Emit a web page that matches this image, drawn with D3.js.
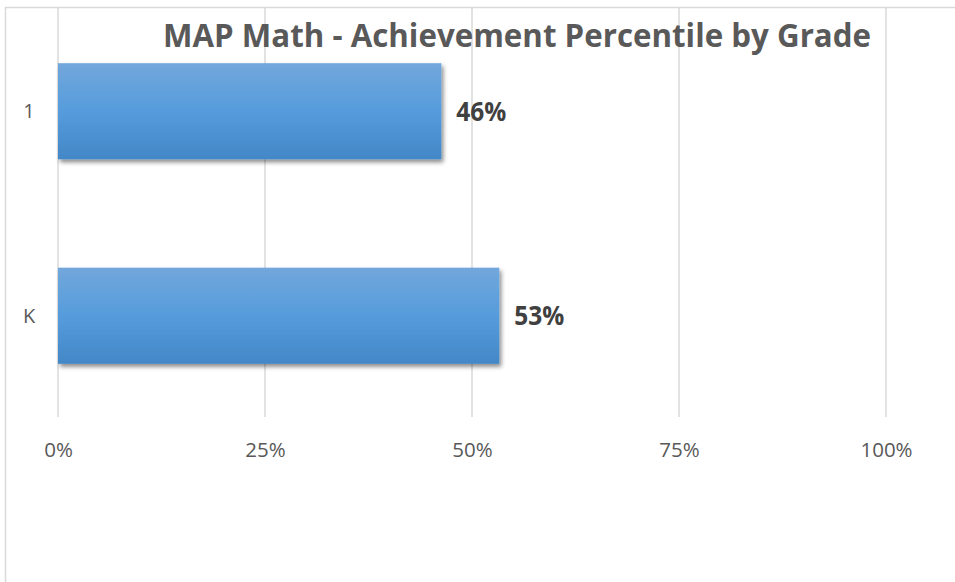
<!DOCTYPE html>
<html>
<head>
<meta charset="utf-8">
<script src="https://cdn.jsdelivr.net/npm/d3@7/dist/d3.min.js"></script>
<style>
  html, body { margin: 0; padding: 0; background: #fff; }
  svg { display: block; }
</style>
</head>
<body>
<svg id="chart" width="955" height="582"></svg>
<script>
// ---- data ----
const categories = ["1", "K"];
const values = [0.463, 0.533];
const labels = ["46%", "53%"];
const tickValues = [0, 0.25, 0.5, 0.75, 1];
const tickLabels = ["0%", "25%", "50%", "75%", "100%"];
const title = "MAP Math - Achievement Percentile by Grade";

const svg = d3.select("#chart");
const fontFamily = "'Open Sans', 'Noto Sans', sans-serif";

// outer border (extends past the visible window on right/bottom)
svg.append("rect")
  .attr("x", 5.5).attr("y", 7.5)
  .attr("width", 1000).attr("height", 700)
  .attr("fill", "#fff")
  .attr("stroke", "#d9d9d9").attr("stroke-width", 1.5);

const plot = { left: 58, right: 886, top: 8, bottom: 417 };

const x = d3.scaleLinear().domain([0, 1]).range([plot.left, plot.right]);
const y = d3.scaleBand().domain(categories).range([plot.top + 1, plot.bottom + 1])
  .paddingInner(0.53).paddingOuter(0.265);

const defs = svg.append("defs");
const grad = defs.append("linearGradient").attr("id", "barGrad")
  .attr("x1", 0).attr("y1", 0).attr("x2", 0).attr("y2", 1);
grad.append("stop").attr("offset", "0%").attr("stop-color", "#72a7db");
grad.append("stop").attr("offset", "50%").attr("stop-color", "#569cdc");
grad.append("stop").attr("offset", "100%").attr("stop-color", "#4387c7");

const shadow = defs.append("filter").attr("id", "shadow")
  .attr("x", "-10%").attr("y", "-20%").attr("width", "130%").attr("height", "150%");
shadow.append("feDropShadow")
  .attr("dx", 2).attr("dy", 3).attr("stdDeviation", 2.2)
  .attr("flood-color", "#000").attr("flood-opacity", 0.45);

// gridlines
svg.append("g").selectAll("line").data(tickValues).join("line")
  .attr("x1", d => x(d)).attr("x2", d => x(d))
  .attr("y1", plot.top).attr("y2", plot.bottom)
  .attr("stroke", "#d9d9d9").attr("stroke-width", 1.5);

// x axis labels via d3 axis
const xAxis = d3.axisBottom(x).tickValues(tickValues)
  .tickFormat((d, i) => tickLabels[i]).tickSize(0).tickPadding(0);
const gx = svg.append("g").attr("transform", `translate(0, 457)`).call(xAxis);
gx.select(".domain").remove();
gx.selectAll("text")
  .attr("dy", 0).attr("y", 0)
  .attr("fill", "#595959")
  .style("font-family", fontFamily).style("font-size", "20.5px");

// y axis labels
const yAxis = d3.axisLeft(y).tickSize(0).tickPadding(0);
const gy = svg.append("g").attr("transform", `translate(29, 0)`).call(yAxis);
gy.select(".domain").remove();
gy.selectAll("text")
  .attr("x", 0).attr("text-anchor", "middle").attr("dy", "0.35em")
  .attr("fill", "#595959")
  .style("font-family", fontFamily).style("font-size", "20px");

// title
svg.append("text")
  .attr("x", 163).attr("y", 47)
  .attr("textLength", 708).attr("lengthAdjust", "spacingAndGlyphs")
  .attr("fill", "#595959")
  .style("font-family", fontFamily).style("font-weight", "bold").style("font-size", "33px")
  .text(title);

// bars
svg.append("g").selectAll("rect").data(categories).join("rect")
  .attr("x", x(0))
  .attr("y", d => y(d))
  .attr("width", (d, i) => x(values[i]) - x(0))
  .attr("height", y.bandwidth())
  .attr("fill", "url(#barGrad)")
  .attr("filter", "url(#shadow)");

// data labels
svg.append("g").selectAll("text").data(categories).join("text")
  .attr("x", (d, i) => x(values[i]) + 15)
  .attr("y", d => y(d) + y.bandwidth() / 2 + 9.5)
  .attr("textLength", 50).attr("lengthAdjust", "spacingAndGlyphs")
  .attr("fill", "#404040")
  .style("font-family", fontFamily).style("font-weight", "bold").style("font-size", "26px")
  .text((d, i) => labels[i]);
</script>
</body>
</html>
